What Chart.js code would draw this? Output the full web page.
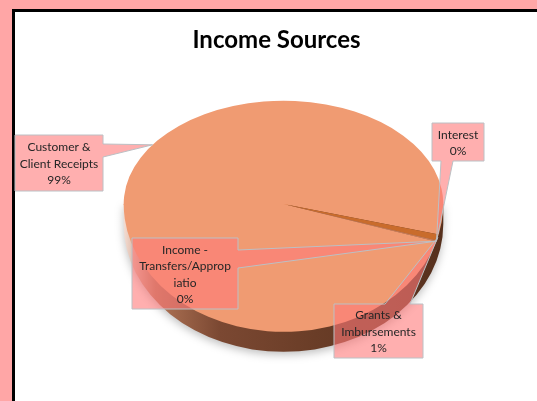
<!DOCTYPE html>
<html>
<head>
<meta charset="utf-8">
<script src="https://cdn.jsdelivr.net/npm/chart.js@4.4.1/dist/chart.umd.min.js"></script>
<style>
  html, body { margin: 0; padding: 0; overflow: hidden; background: #fff; }
  #chart { display: block; }
</style>
</head>
<body>
<canvas id="chart" width="537" height="401"></canvas>
<script>
  var categories = ['Customer & Client Receipts', 'Grants & Imbursements', 'Interest', 'Income - Transfers/Appropriatio'];
  var shares = [99.1, 0.8, 0.05, 0.05];
  var labelLines = [['Customer &', 'Client Receipts'], ['Grants &', 'Imbursements'], ['Interest'], ['Income -', 'Transfers/Approp', 'iatio']];
  var sliceColors = ['#f09b72', '#c96c2c', '#f09b72', '#f09b72'];

  // 3d look: top face squashed differently above / below the widest line
  var CX = 283.5, YW = 204, SQ_TOP = 0.646, SQ_BOT = 0.80, DEPTH = 20;

  // callout boxes: [x0, y0, x1, y1], side the pointer leaves from, pointer base
  var callouts = [
    { box: [15, 135, 103, 191], side: 'right', base: [144, 157], angle: -145 },
    { box: [334, 304, 423, 358], side: 'top', base: [385, 410] },
    { box: [432, 123, 484, 161], side: 'bottom', base: [441, 453] },
    { box: [132, 238, 238, 309], side: 'right', base: [250, 268] }
  ];

  function pontoBorda(ang, R) {
    var s = Math.sin(ang);
    return { x: CX + R * Math.cos(ang), y: YW + R * s * (s > 0 ? SQ_BOT : SQ_TOP) };
  }

  function desenharCallout(ctx, c, tip, lines) {
    var x0 = c.box[0], y0 = c.box[1], x1 = c.box[2], y1 = c.box[3];
    ctx.beginPath();
    ctx.moveTo(x0, y0);
    if (c.side === 'top') { ctx.lineTo(c.base[0], y0); ctx.lineTo(tip.x, tip.y); ctx.lineTo(c.base[1], y0); }
    ctx.lineTo(x1, y0);
    if (c.side === 'right') { ctx.lineTo(x1, c.base[0]); ctx.lineTo(tip.x, tip.y); ctx.lineTo(x1, c.base[1]); }
    ctx.lineTo(x1, y1);
    if (c.side === 'bottom') { ctx.lineTo(c.base[1], y1); ctx.lineTo(tip.x, tip.y); ctx.lineTo(c.base[0], y1); }
    ctx.lineTo(x0, y1);
    ctx.closePath();
    ctx.fillStyle = 'rgba(255,122,122,0.6)';
    ctx.fill();
    ctx.strokeStyle = '#bcc0c4';
    ctx.lineWidth = 1;
    ctx.stroke();

    var lh = 16.5;
    var top = y0 + (y1 - y0 - lines.length * lh) / 2 + 1;
    ctx.fillStyle = '#262626';
    ctx.font = '12px Lato';
    ctx.textAlign = 'center';
    ctx.textBaseline = 'middle';
    lines.forEach(function (t, i) {
      ctx.fillText(t, (x0 + x1) / 2, top + lh * (i + 0.5));
    });
  }

  var pie3d = {
    id: 'pie3d',
    beforeDraw: function (chart) {
      // moldura: fundo rosa, area branca, borda preta em cima e a esquerda
      var ctx = chart.ctx;
      ctx.save();
      ctx.fillStyle = '#ffa6a6';
      ctx.fillRect(0, 0, chart.width, chart.height);
      ctx.fillStyle = '#fff';
      ctx.fillRect(15, 12, chart.width - 15, chart.height - 12);
      ctx.fillStyle = '#000';
      ctx.fillRect(12, 9, chart.width - 12, 3);
      ctx.fillRect(12, 9, 3, chart.height - 9);
      ctx.restore();
    },
    beforeDatasetsDraw: function (chart) {
      var ctx = chart.ctx;
      var arcs = chart.getDatasetMeta(0).data;
      var R = arcs[0].outerRadius;

      // lateral da pizza
      var g = ctx.createLinearGradient(CX - R, 0, CX + R, 0);
      g.addColorStop(0, '#f4ddd3');
      g.addColorStop(0.1, '#b07456');
      g.addColorStop(0.3, '#7b4832');
      g.addColorStop(0.6, '#6a3d27');
      g.addColorStop(1, '#56301d');
      ctx.save();
      ctx.shadowColor = 'rgba(0,0,0,0.25)';
      ctx.shadowBlur = 8;
      ctx.shadowOffsetY = 3;
      ctx.beginPath();
      ctx.ellipse(CX, YW + DEPTH, R, R * SQ_BOT, 0, 0, Math.PI);
      ctx.lineTo(CX - R, YW);
      ctx.lineTo(CX + R, YW);
      ctx.closePath();
      ctx.fillStyle = g;
      ctx.fill();
      ctx.restore();

      // face de cima, em duas metades
      [[0, YW + 1, SQ_TOP], [YW, chart.height, SQ_BOT]].forEach(function (h) {
        ctx.save();
        ctx.beginPath();
        ctx.rect(0, h[0], chart.width, h[1] - h[0]);
        ctx.clip();
        ctx.translate(CX, YW);
        ctx.scale(1, h[2]);
        ctx.translate(-arcs[0].x, -arcs[0].y);
        arcs.forEach(function (a) { a.draw(ctx); });
        ctx.restore();
      });
      return false;
    },
    afterDraw: function (chart) {
      var ctx = chart.ctx;
      var arcs = chart.getDatasetMeta(0).data;
      var R = arcs[0].outerRadius;
      var total = shares.reduce(function (a, b) { return a + b; }, 0);
      ctx.save();
      callouts.forEach(function (c, i) {
        var ang = c.angle !== undefined ? c.angle * Math.PI / 180 : (arcs[i].startAngle + arcs[i].endAngle) / 2;
        var tip = pontoBorda(ang, R);
        var pct = Math.round(shares[i] / total * 100) + '%';
        desenharCallout(ctx, c, tip, labelLines[i].concat([pct]));
      });
      ctx.restore();
    }
  };

  Chart.defaults.font.family = 'Lato';

  new Chart(document.getElementById('chart'), {
    type: 'pie',
    data: {
      labels: categories,
      datasets: [{
        data: shares,
        backgroundColor: sliceColors,
        borderWidth: 0,
        hoverOffset: 0
      }]
    },
    options: {
      responsive: false,
      animation: false,
      events: [],
      rotation: 107,
      layout: { padding: { top: 26, left: 24, right: 8, bottom: 16.6 } },
      plugins: {
        legend: { display: false },
        tooltip: { enabled: false },
        title: {
          display: true,
          text: 'Income Sources',
          color: '#000',
          font: { size: 24, weight: 'bold', family: 'Lato' },
          padding: { top: 0, bottom: 10 }
        }
      }
    },
    plugins: [pie3d]
  });
</script>
</body>
</html>
